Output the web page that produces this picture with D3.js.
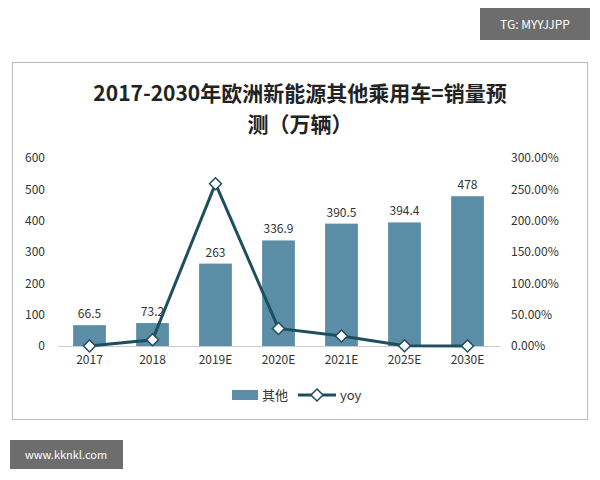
<!DOCTYPE html><html><head><meta charset="utf-8">
<script src="https://cdn.jsdelivr.net/npm/d3@7"></script>
<style>body{margin:0;background:#fff}text{font-family:"Noto Sans CJK SC","Noto Sans",sans-serif}</style></head><body>
<svg id="c" width="600" height="480"></svg>
<script>
const categories=["2017","2018","2019E","2020E","2021E","2025E","2030E"];
const sales=[66.5,73.2,263,336.9,390.5,394.4,478];
const yoy=[0,10,259,28,16,0.5,0];
const leftTicks=[0,100,200,300,400,500,600];
const rightTicks=[0,50,100,150,200,250,300];
const svg=d3.select("#c");
svg.append("rect").attr("x",12.5).attr("y",62.5).attr("width",575).attr("height",357).attr("fill","#fff").attr("stroke","#bbb");
svg.append("rect").attr("x",480).attr("y",8).attr("width",110).attr("height",32).attr("fill","#6d6d6d");
svg.append("text").attr("x",535).attr("y",29).attr("text-anchor","middle").attr("fill","#fff").attr("font-size",12).text("TG: MYYJJPP");
svg.append("rect").attr("x",10).attr("y",440).attr("width",113).attr("height",29).attr("fill","#6d6d6d");
svg.append("text").attr("x",66).attr("y",459).attr("text-anchor","middle").attr("fill","#fff").attr("font-size",11).text("www.kknkl.com");
svg.append("text").attr("x",300).attr("y",101).attr("text-anchor","middle").attr("font-size",21).attr("font-weight","bold").attr("fill","#222").text("2017-2030年欧洲新能源其他乘用车=销量预");
svg.append("text").attr("x",300).attr("y",132).attr("text-anchor","middle").attr("font-size",21).attr("font-weight","bold").attr("fill","#222").text("测（万辆）");
const x=d3.scaleBand().domain(categories).range([58,499]).paddingInner(0.48).paddingOuter(0.24);
const y=d3.scaleLinear().domain([0,600]).range([346,158]);
const y2=d3.scaleLinear().domain([0,300]).range([346,158]);
svg.selectAll(".b").data(sales).join("rect").attr("x",(d,i)=>x(categories[i])).attr("width",x.bandwidth()).attr("y",d=>y(d)).attr("height",d=>346-y(d)).attr("fill","#5b8ea6");
svg.selectAll(".bl").data(sales).join("text").attr("x",(d,i)=>x(categories[i])+x.bandwidth()/2).attr("y",d=>y(d)-7).attr("text-anchor","middle").attr("font-size",12).attr("fill","#333").text(d=>d);
svg.append("line").attr("x1",58).attr("x2",500).attr("y1",346.5).attr("y2",346.5).attr("stroke","#ccc");
const la=svg.append("g").attr("transform","translate(48,0)").call(d3.axisLeft(y).tickValues(leftTicks).tickSize(0));
la.select(".domain").remove();la.selectAll("text").attr("font-size",12).attr("fill","#333");
const ra=svg.append("g").attr("transform","translate(508,0)").call(d3.axisRight(y2).tickValues(rightTicks).tickSize(0).tickFormat(d=>d.toFixed(2)+"%"));
ra.select(".domain").remove();ra.selectAll("text").attr("font-size",12).attr("fill","#333");
const xa=svg.append("g").attr("transform","translate(0,352)").call(d3.axisBottom(x).tickSize(0));
xa.select(".domain").remove();xa.selectAll("text").attr("font-size",12).attr("fill","#333");
const cx=(d,i)=>x(categories[i])+x.bandwidth()/2;
const dia="M0,-6L6,0L0,6L-6,0Z";
svg.append("path").datum(yoy).attr("d",d3.line().x(cx).y(d=>y2(d))).attr("fill","none").attr("stroke","#1d4f5e").attr("stroke-width",3);
svg.selectAll(".m").data(yoy).join("path").attr("d",dia).attr("transform",(d,i)=>`translate(${cx(d,i)},${y2(d)})`).attr("fill","#fff").attr("stroke","#1d4f5e").attr("stroke-width",1.5);
const lg=svg.append("g");
lg.append("rect").attr("x",232).attr("y",390).attr("width",26).attr("height",10).attr("fill","#5b8ea6");
lg.append("text").attr("x",262).attr("y",400).attr("font-size",13).attr("fill","#333").text("其他");
lg.append("line").attr("x1",298).attr("x2",336).attr("y1",395).attr("y2",395).attr("stroke","#1d4f5e").attr("stroke-width",3);
lg.append("path").attr("d",dia).attr("transform","translate(317,395)").attr("fill","#fff").attr("stroke","#1d4f5e").attr("stroke-width",1.5);
lg.append("text").attr("x",340).attr("y",400).attr("font-size",13).attr("fill","#333").text("yoy");
</script></body></html>
